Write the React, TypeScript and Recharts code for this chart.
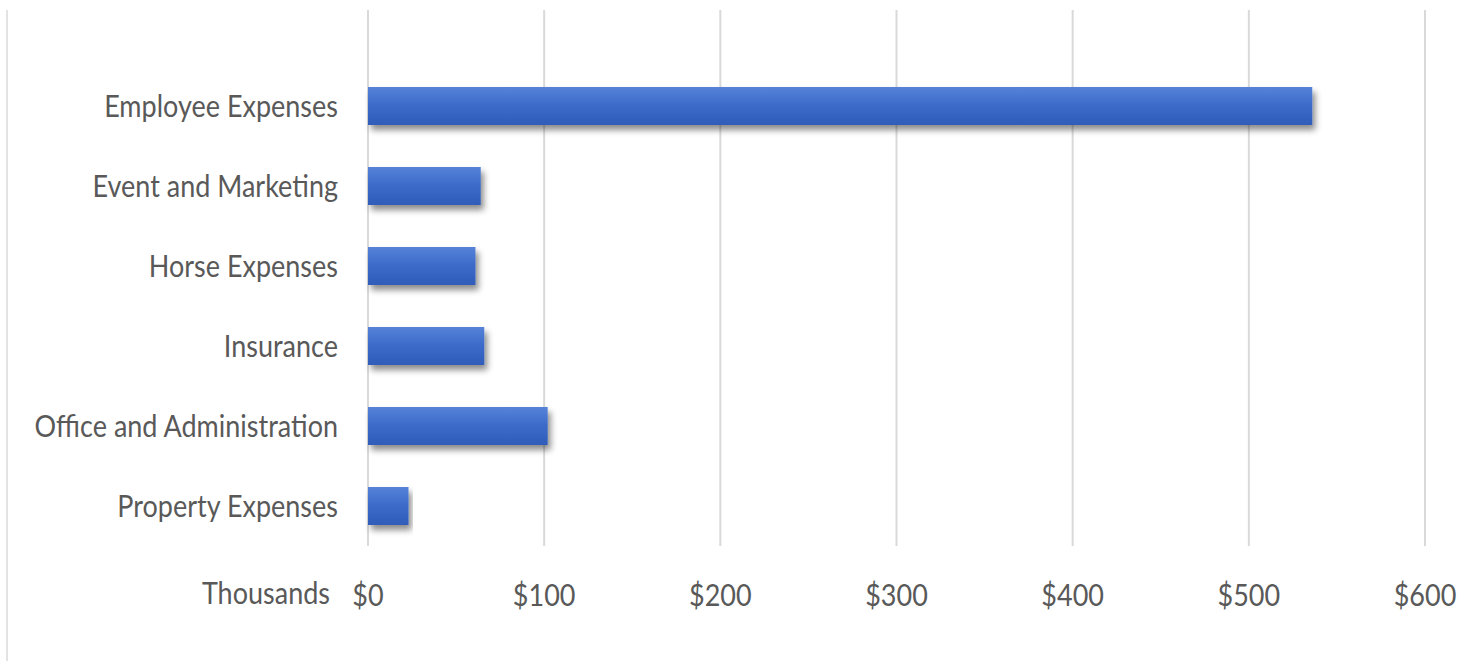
import React from 'react';
import { BarChart, Bar, XAxis, YAxis, CartesianGrid, Label } from 'recharts';

const categories = [
  'Employee Expenses',
  'Event and Marketing',
  'Horse Expenses',
  'Insurance',
  'Office and Administration',
  'Property Expenses',
];
const values = [536, 64, 61, 66, 102, 23];
const xTicks = [0, 100, 200, 300, 400, 500, 600];

const data = categories.map((name, i) => ({ name, value: values[i] }));

const FONT = 'Lato, "Open Sans", sans-serif';
const TEXT = '#595959';
const FS = 27;
const SY = 1.12;

const YTick = (props: any) => {
  const { x, y, payload } = props;
  return (
    <g transform={`translate(${x},${y})`}>
      <text
        x={0}
        y={0}
        dy="0.355em"
        textAnchor="end"
        transform={`scale(1,${SY})`}
        fill={TEXT}
        fontSize={FS}
        fontFamily={FONT}
      >
        {payload.value}
      </text>
    </g>
  );
};

const XTick = (props: any) => {
  const { x, y, payload } = props;
  return (
    <g transform={`translate(${x},${y + 47})`}>
      <text
        x={0}
        y={0}
        dy="0.355em"
        textAnchor="middle"
        transform={`scale(1,${SY})`}
        fill={TEXT}
        fontSize={FS}
        fontFamily={FONT}
      >
        {`$${payload.value}`}
      </text>
    </g>
  );
};

const ThousandsLabel = (props: any) => {
  const { viewBox } = props;
  const x = viewBox.x - 38;
  const y = viewBox.y + 47;
  return (
    <g transform={`translate(${x},${y})`}>
      <text
        x={0}
        y={0}
        dy="0.355em"
        textAnchor="end"
        transform={`scale(1,${SY})`}
        fill={TEXT}
        fontSize={FS}
        fontFamily={FONT}
      >
        Thousands
      </text>
    </g>
  );
};

export default function App() {
  return (
    <div style={{ position: 'absolute', left: 0, top: 0, width: 1474, height: 661, background: '#fff' }}>
      <div
        style={{
          position: 'absolute',
          left: 6,
          top: 10,
          width: 2,
          height: 651,
          background: '#e3e3e3',
        }}
      />
      <BarChart
        width={1474}
        height={661}
        data={data}
        layout="vertical"
        margin={{ top: 10, right: 49, bottom: 0, left: 0 }}
        barSize={38}
      >
        <defs>
          <linearGradient id="barGrad" x1="0" y1="0" x2="0" y2="1">
            <stop offset="0%" stopColor="#5683d8" />
            <stop offset="45%" stopColor="#3e6ccb" />
            <stop offset="100%" stopColor="#2f5cb9" />
          </linearGradient>
          <filter id="barShadow" x="-5%" y="-20%" width="115%" height="170%">
            <feDropShadow dx="3" dy="5" stdDeviation="3" floodColor="#000" floodOpacity="0.45" />
          </filter>
        </defs>
        <CartesianGrid horizontal={false} stroke="#d9d9d9" strokeWidth={2} />
        <XAxis
          type="number"
          domain={[0, 600]}
          ticks={xTicks}
          axisLine={false}
          tickLine={false}
          tickSize={0}
          height={115}
          interval={0}
          tick={<XTick />}
        >
          <Label content={<ThousandsLabel />} />
        </XAxis>
        <YAxis
          type="category"
          dataKey="name"
          width={368}
          axisLine={false}
          tickLine={false}
          tickSize={0}
          tickMargin={30}
          padding={{ top: 56, bottom: 0 }}
          interval={0}
          tick={<YTick />}
        />
        <Bar
          dataKey="value"
          fill="url(#barGrad)"
          filter="url(#barShadow)"
          isAnimationActive={false}
        />
      </BarChart>
    </div>
  );
}
